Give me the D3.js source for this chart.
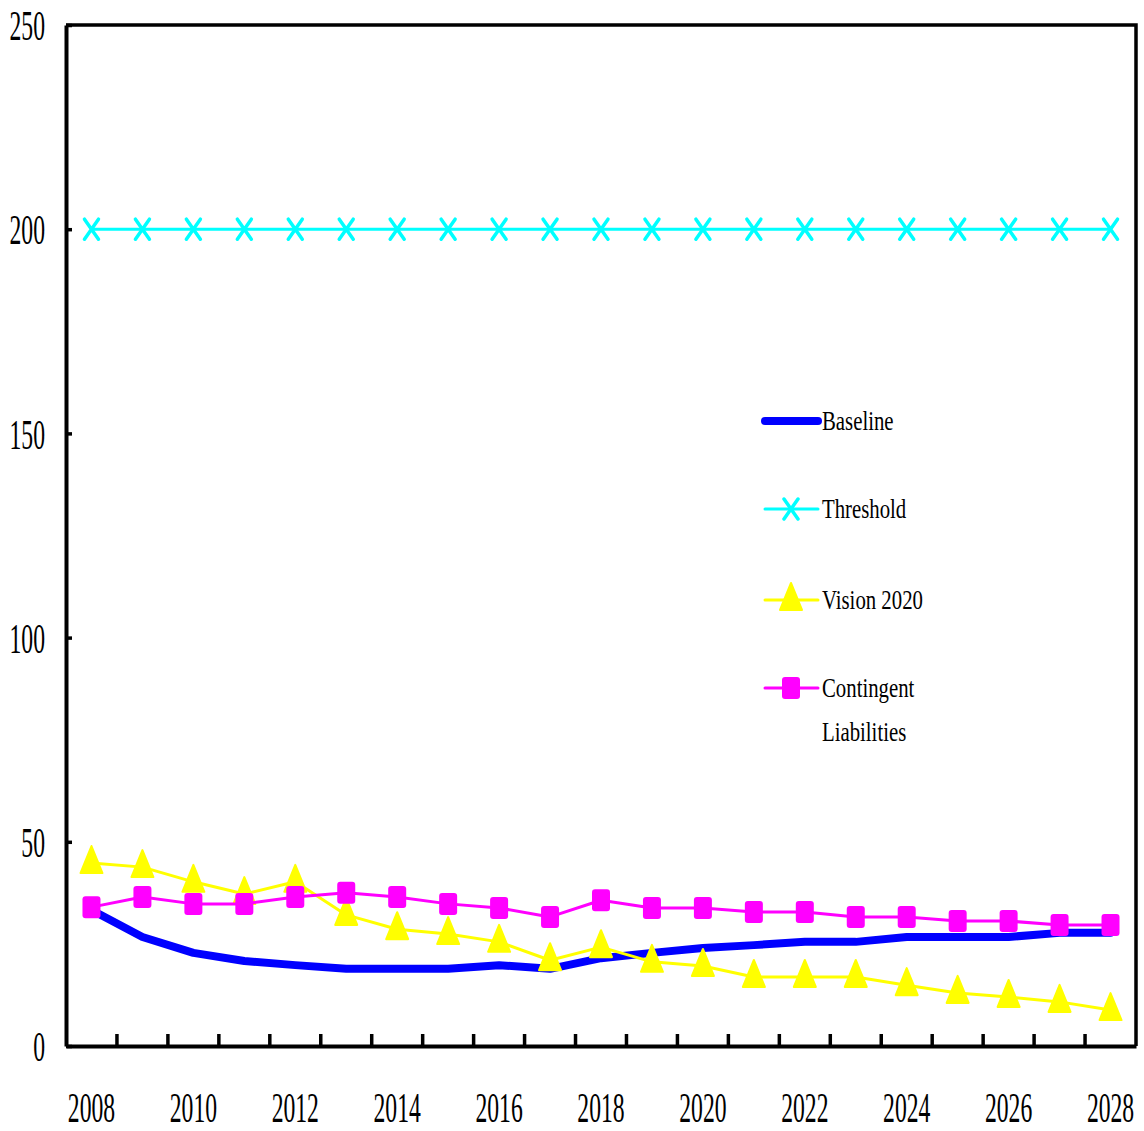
<!DOCTYPE html>
<html>
<head>
<meta charset="utf-8">
<script src="https://cdn.jsdelivr.net/npm/d3@7"></script>
<style>
  html, body { margin: 0; padding: 0; background: #fff; }
  svg { display: block; }
  text { font-family: "Liberation Serif", "Times New Roman", serif; fill: #000; }
</style>
</head>
<body>
<svg id="chart" width="1144" height="1131"></svg>
<script>
// Debt-to-exports style projection, 2008-2028
const years = d3.range(2008, 2029).map(String);
const yTicks = [0, 50, 100, 150, 200, 250];
const xLabelYears = years.filter((d, i) => i % 2 === 0);

const baseline = [33.3, 26.7, 22.8, 20.8, 19.8, 18.9, 18.9, 18.9, 19.8, 18.9, 21.5,
                  22.8, 24.0, 24.7, 25.5, 25.5, 26.7, 26.7, 26.7, 27.7, 27.7];
const threshold = years.map(() => 200);
const vision2020 = [44.8, 43.8, 40.2, 37.2, 40.2, 32.1, 28.6, 27.4, 25.5, 21.0, 24.2,
                    20.6, 19.6, 16.9, 16.9, 16.9, 14.9, 13.0, 12.0, 10.8, 8.8];
const contingent = [34.0, 36.5, 34.8, 34.8, 36.5, 37.5, 36.5, 34.8, 33.8, 31.6, 35.7,
                    33.8, 33.8, 32.8, 32.8, 31.6, 31.6, 30.6, 30.6, 29.6, 29.6];

const seriesNames = ["Baseline", "Threshold", "Vision 2020", "Contingent Liabilities"];

const svg = d3.select("#chart");
const plot = { left: 66, right: 1136, top: 25, bottom: 1046 };

const x = d3.scaleBand().domain(years).range([plot.left, plot.right]).padding(0);
const y = d3.scaleLinear().domain([0, 250]).range([plot.bottom, plot.top]);
const cx = d => x(d) + x.bandwidth() / 2;

const AXIS_SX = 0.55;   // condensed axis numerals
const LEG_SX = 0.77;    // condensed legend text

// frame (top / right)
svg.append("path")
  .attr("d", `M${plot.left},${plot.top}H${plot.right}V${plot.bottom}`)
  .attr("fill", "none").attr("stroke", "#000").attr("stroke-width", 3.5);

// y axis
const yAxis = svg.append("g")
  .attr("transform", `translate(${plot.left},0)`)
  .call(d3.axisLeft(y).tickValues(yTicks).tickSize(-6).tickSizeOuter(0));
yAxis.select(".domain").attr("stroke-width", 4);
yAxis.selectAll(".tick line").attr("stroke-width", 3.5);
yAxis.selectAll(".tick text")
  .attr("x", -21 / AXIS_SX)
  .attr("dy", "0.34em")
  .attr("transform", `scale(${AXIS_SX},1)`)
  .style("font-size", "43px");

// x axis: category boundaries as ticks pointing inward
const xAxis = svg.append("g")
  .attr("transform", `translate(0,${plot.bottom})`)
  .call(d3.axisBottom(x).tickValues([]).tickSizeOuter(0));
xAxis.select(".domain").attr("stroke-width", 4);
xAxis.selectAll(".bound")
  .data(years.slice(1))
  .join("line")
  .attr("class", "bound")
  .attr("x1", d => x(d)).attr("x2", d => x(d))
  .attr("y1", 0).attr("y2", -12)
  .attr("stroke", "#000").attr("stroke-width", 3.5);

svg.append("g").selectAll("text")
  .data(xLabelYears)
  .join("text")
  .attr("transform", d => `translate(${cx(d)},1122) scale(${AXIS_SX},1)`)
  .attr("text-anchor", "middle")
  .style("font-size", "43px")
  .text(d => d);

// marker shapes
const xMark = (g, px, py) => g.append("path")
  .attr("d", `M${px - 7},${py - 10}L${px + 7},${py + 10}M${px + 7},${py - 10}L${px - 7},${py + 10}`)
  .attr("stroke", "#00ffff").attr("stroke-width", 3.5).attr("stroke-linecap", "round").attr("fill", "none");
const triMark = (g, px, py) => g.append("path")
  .attr("d", `M${px},${py - 17}L${px + 11},${py + 10}L${px - 11},${py + 10}Z`)
  .attr("fill", "#ffff00").attr("stroke", "#ffff00").attr("stroke-width", 2).attr("stroke-linejoin", "round");
const sqMark = (g, px, py) => g.append("rect")
  .attr("x", px - 9).attr("y", py - 11).attr("width", 18).attr("height", 22)
  .attr("rx", 3).attr("fill", "#ff00ff");

const line = d3.line().x((d, i) => cx(years[i])).y(d => y(d));

function drawSeries(values, color, width, marker) {
  const g = svg.append("g");
  g.append("path").datum(values)
    .attr("d", line)
    .attr("fill", "none").attr("stroke", color).attr("stroke-width", width)
    .attr("stroke-linejoin", "round").attr("stroke-linecap", "round");
  if (marker) values.forEach((v, i) => marker(g, cx(years[i]), y(v)));
}

drawSeries(baseline, "#0000ff", 8, null);
drawSeries(threshold, "#00ffff", 3, xMark);
drawSeries(vision2020, "#ffff00", 3, triMark);
drawSeries(contingent, "#ff00ff", 3, sqMark);

// legend
const legend = svg.append("g");
const legItems = [
  { name: seriesNames[0], color: "#0000ff", w: 8, marker: null, ly: 421 },
  { name: seriesNames[1], color: "#00ffff", w: 3, marker: xMark, ly: 509 },
  { name: seriesNames[2], color: "#ffff00", w: 3, marker: triMark, ly: 600 },
  { name: seriesNames[3], color: "#ff00ff", w: 3, marker: sqMark, ly: 688 }
];
legItems.forEach(it => {
  legend.append("line")
    .attr("x1", 765).attr("x2", 818).attr("y1", it.ly).attr("y2", it.ly)
    .attr("stroke", it.color).attr("stroke-width", it.w).attr("stroke-linecap", "round");
  if (it.marker) it.marker(legend, 791, it.ly);
  const words = it.name === "Contingent Liabilities" ? ["Contingent", "Liabilities"] : [it.name];
  words.forEach((w, k) => {
    legend.append("text")
      .attr("transform", `translate(822,${it.ly + 9 + k * 44}) scale(${LEG_SX},1)`)
      .style("font-size", "27px")
      .text(w);
  });
});
</script>
</body>
</html>
